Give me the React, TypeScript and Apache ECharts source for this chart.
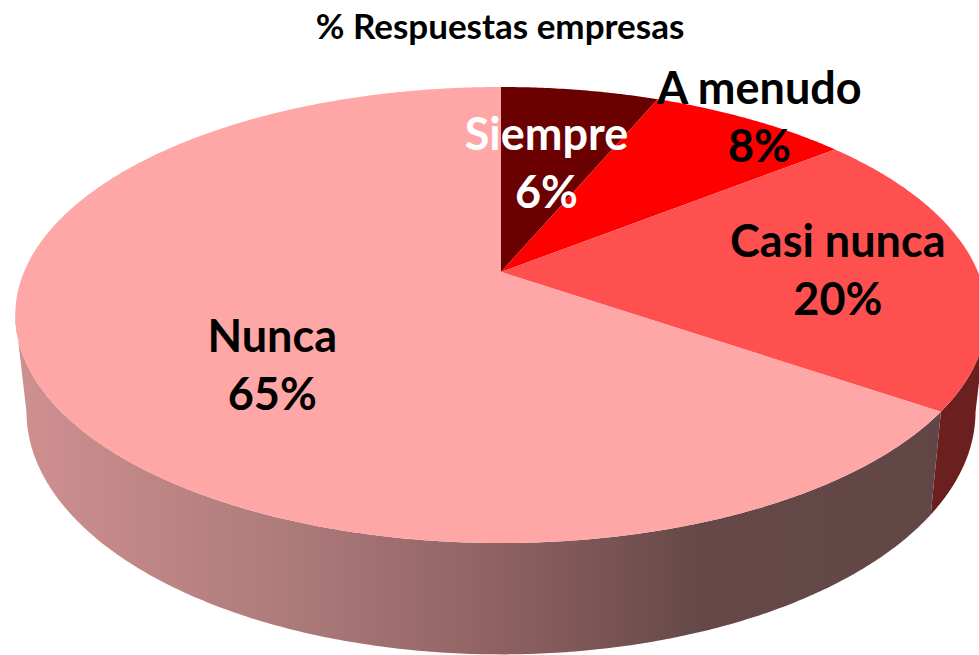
import React, { useEffect, useRef } from "react";
import * as echarts from "echarts";

const categories = ["Siempre", "A menudo", "Casi nunca", "Nunca"];
const shares = [6.3, 8.0, 20.3, 65.4];
const titleText = "% Respuestas empresas";

const topColors = ["#6a0000", "#ff0000", "#ff5050", "#ffa6a6"];
const labelColors = ["#ffffff", "#000000", "#000000", "#000000"];
// label placement on the disc: radial fraction and angular shift (degrees)
const labelRadius = [0.565, 1.03, 0.708, 0.59];
const labelTurn = [-0.6, 0.3, 0.9, -13.4];

const W = 979;
const H = 655;
const CX = 501;
const PERSP = 0.1886;
const TOP = { y0: 272, a: 477, b: 219.9 };
const BOTTOM = { y0: 366, a: 466, b: 234 };
const VISIBLE_FROM = 101;
const VISIBLE_TO = 259;

const total = shares.reduce((s, v) => s + v, 0);
const toAngle = (v: number) => (v / total) * 360;

function project(deg: number, r: number, d: { y0: number; a: number; b: number }) {
  const t = (deg * Math.PI) / 180;
  const u = r * Math.sin(t);
  const v = r * Math.cos(t);
  const w = 1 + PERSP * v;
  return [CX + (d.a * u) / w, d.y0 - (d.b * v) / w];
}

function arc(from: number, to: number, d: typeof TOP) {
  const pts: number[][] = [];
  const n = Math.max(2, Math.ceil((to - from) * 2));
  for (let i = 0; i <= n; i++) pts.push(project(from + ((to - from) * i) / n, 1, d));
  return pts;
}

function sliceRange(i: number) {
  let start = 0;
  for (let k = 0; k < i; k++) start += toAngle(shares[k]);
  return [start, start + toAngle(shares[i])];
}

const sideFill = (i: number) =>
  categories[i] === "Nunca"
    ? new echarts.graphic.LinearGradient(0, 0, 1, 0, [
        { offset: 0, color: "#d09090" },
        { offset: 0.3, color: "#ad7a7a" },
        { offset: 0.52, color: "#8f6262" },
        { offset: 0.74, color: "#664848" },
        { offset: 1, color: "#624646" },
      ])
    : "#6b1f1f";

export default function App() {
  const ref = useRef<HTMLDivElement>(null);
  useEffect(() => {
    document.body.style.margin = "0";
    const chart = echarts.init(ref.current!, undefined, { renderer: "svg" });
    const data = shares.map((v) => v);
    chart.setOption({
      animation: false,
      backgroundColor: "#ffffff",
      title: {
        text: titleText,
        left: 495,
        textAlign: "center",
        top: 2,
        textStyle: { fontFamily: "Lato", fontWeight: "bold", fontSize: 35, color: "#000000" },
      },
      series: [
        {
          type: "custom",
          coordinateSystem: "none",
          silent: true,
          z: 1,
          data,
          renderItem: (p: any) => {
            const [s, e] = sliceRange(p.dataIndex);
            const from = Math.max(s, VISIBLE_FROM);
            const to = Math.min(e, VISIBLE_TO);
            if (to <= from) return { type: "group", children: [] };
            const points = [...arc(from, to, TOP), ...arc(from, to, BOTTOM).reverse()];
            return {
              type: "polygon",
              shape: { points },
              style: { fill: sideFill(p.dataIndex), stroke: "none" },
            };
          },
        },
        {
          type: "custom",
          coordinateSystem: "none",
          silent: true,
          z: 2,
          data,
          renderItem: (p: any) => {
            const [s, e] = sliceRange(p.dataIndex);
            const points = [[CX, TOP.y0], ...arc(s, e, TOP)];
            return {
              type: "polygon",
              shape: { points },
              style: { fill: topColors[p.dataIndex], stroke: "none" },
            };
          },
        },
        {
          type: "custom",
          coordinateSystem: "none",
          silent: true,
          z: 3,
          data,
          renderItem: (p: any, api: any) => {
            const i = p.dataIndex;
            const [s, e] = sliceRange(i);
            const [x, y] = project((s + e) / 2 + labelTurn[i], labelRadius[i], TOP);
            return {
              type: "text",
              x,
              y,
              style: {
                text: `${categories[i]}\n${Math.round(api.value(0))}%`,
                fontFamily: "Lato",
                fontWeight: "bold",
                fontSize: 45,
                lineHeight: 58,
                align: "center",
                verticalAlign: "middle",
                fill: labelColors[i],
              },
            };
          },
        },
      ],
    });
    return () => chart.dispose();
  }, []);
  return <div ref={ref} style={{ width: W, height: H }} />;
}
